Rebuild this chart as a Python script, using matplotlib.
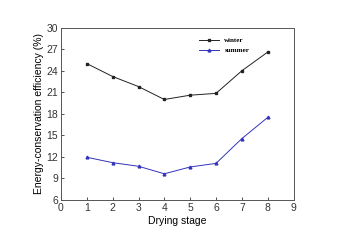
import matplotlib
matplotlib.use("Agg")
import matplotlib.pyplot as plt

# Data
stages = [1, 2, 3, 4, 5, 6, 7, 8]
winter = [25.0, 23.2, 21.8, 20.0, 20.6, 20.85, 24.0, 26.6]
summer = [11.95, 11.2, 10.7, 9.65, 10.6, 11.1, 14.55, 17.5]
xticks = [0, 1, 2, 3, 4, 5, 6, 7, 8, 9]
yticks = [6, 9, 12, 15, 18, 21, 24, 27, 30]

plt.rcParams["font.family"] = "Liberation Sans"

fig = plt.figure(figsize=(3.42, 2.4), dpi=100)
ax = fig.add_axes([61 / 342, 1 - 200 / 240, (293.5 - 61) / 342, (200 - 27.7) / 240])

ax.plot(stages, winter, color="#222222", lw=0.7, marker="s", ms=1.8, label="winter")
ax.plot(stages, summer, color="#3333bb", lw=0.7, marker="^", ms=2.0, label="summer")

ax.set_xlim(0, 9)
ax.set_ylim(6, 30)
ax.set_xticks(xticks)
ax.set_yticks(yticks)
ax.tick_params(direction="in", length=2, width=0.6, labelsize=7.5, pad=2, colors="#333333")
for s in ax.spines.values():
    s.set_linewidth(0.7)
    s.set_color("#555555")

ax.set_xlabel("Drying stage", fontsize=7.5, labelpad=2)
ax.set_ylabel("Energy-conservation efficiency (%)", fontsize=7.5, labelpad=2)

leg = ax.legend(loc="upper left", bbox_to_anchor=(0.58, 0.965), frameon=False,
                prop={"family": "Liberation Serif", "weight": "bold", "size": 5},
                handlelength=2.8, labelspacing=0.6, borderpad=0)

fig.savefig("out.png", dpi=100)
